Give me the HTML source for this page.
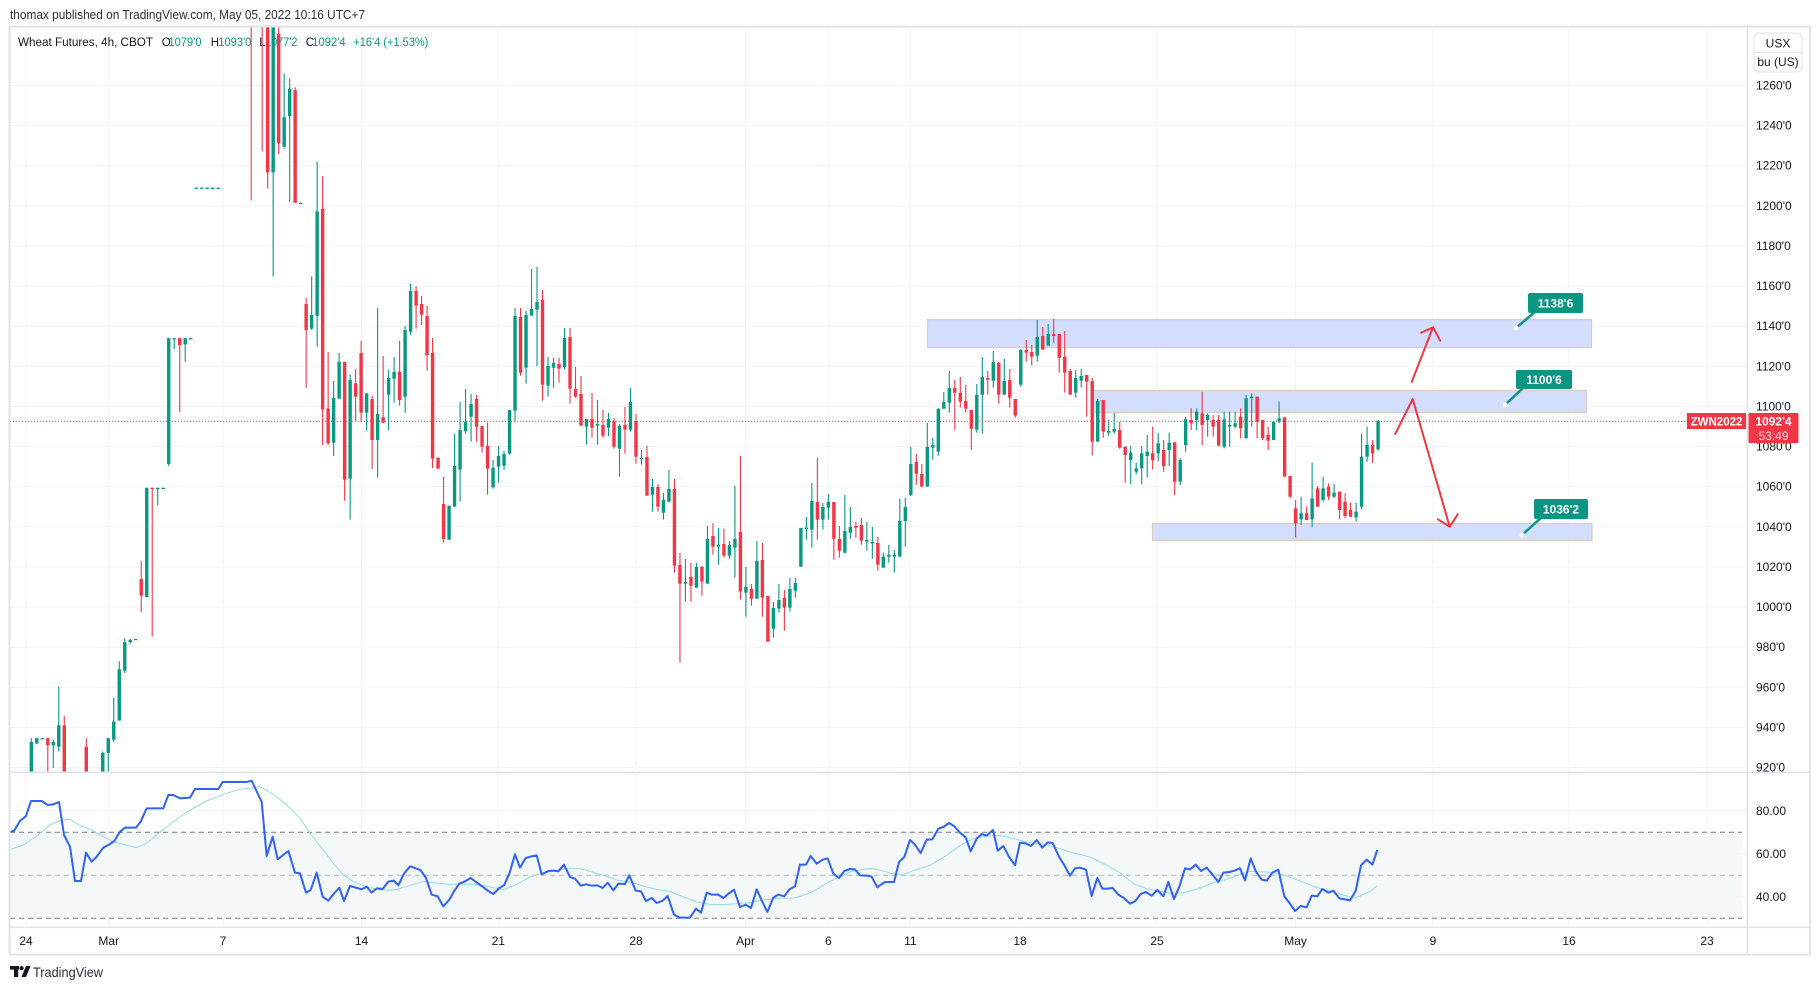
<!DOCTYPE html>
<html><head><meta charset="utf-8">
<style>
html,body{margin:0;padding:0;background:#fff;}
body{width:1820px;height:990px;overflow:hidden;position:relative;font-family:"Liberation Sans",Arial,sans-serif;}
svg{position:absolute;left:0;top:0;}
text{font-family:"Liberation Sans",Arial,sans-serif;}
</style></head>
<body>
<svg width="1820" height="990" viewBox="0 0 1820 990" xmlns="http://www.w3.org/2000/svg">
<defs>
<clipPath id="mainclip"><rect x="10" y="27" width="1737" height="745"/></clipPath>
<clipPath id="rsiclip"><rect x="10" y="773" width="1737" height="154"/></clipPath>
</defs>
<rect x="0" y="0" width="1820" height="990" fill="#fff"/>
<text x="10" y="19" font-size="12.5" fill="#2a2e39" textLength="355" lengthAdjust="spacingAndGlyphs">thomax published on TradingView.com, May 05, 2022 10:16 UTC+7</text>

<!-- grid -->
<g stroke="#f0f3fa" stroke-width="1">
<line x1="10" x2="1747" y1="85.5" y2="85.5"/><line x1="10" x2="1747" y1="125.6" y2="125.6"/>
<line x1="10" x2="1747" y1="165.7" y2="165.7"/><line x1="10" x2="1747" y1="205.9" y2="205.9"/>
<line x1="10" x2="1747" y1="246" y2="246"/><line x1="10" x2="1747" y1="286.1" y2="286.1"/>
<line x1="10" x2="1747" y1="326.2" y2="326.2"/><line x1="10" x2="1747" y1="366.3" y2="366.3"/>
<line x1="10" x2="1747" y1="406.5" y2="406.5"/><line x1="10" x2="1747" y1="446.6" y2="446.6"/>
<line x1="10" x2="1747" y1="486.7" y2="486.7"/><line x1="10" x2="1747" y1="526.8" y2="526.8"/>
<line x1="10" x2="1747" y1="566.9" y2="566.9"/><line x1="10" x2="1747" y1="607.1" y2="607.1"/>
<line x1="10" x2="1747" y1="647.2" y2="647.2"/><line x1="10" x2="1747" y1="687.3" y2="687.3"/>
<line x1="10" x2="1747" y1="727.4" y2="727.4"/><line x1="10" x2="1747" y1="767.5" y2="767.5"/>
<line x1="10" x2="1747" y1="810.5" y2="810.5"/><line x1="10" x2="1747" y1="853.5" y2="853.5"/>
<line x1="10" x2="1747" y1="896.5" y2="896.5"/>
<line x1="26" x2="26" y1="27" y2="927"/><line x1="108.7" x2="108.7" y1="27" y2="927"/>
<line x1="223" x2="223" y1="27" y2="927"/><line x1="361.5" x2="361.5" y1="27" y2="927"/>
<line x1="498.3" x2="498.3" y1="27" y2="927"/><line x1="636" x2="636" y1="27" y2="927"/>
<line x1="745.5" x2="745.5" y1="27" y2="927"/><line x1="828.3" x2="828.3" y1="27" y2="927"/>
<line x1="910.3" x2="910.3" y1="27" y2="927"/><line x1="1020" x2="1020" y1="27" y2="927"/>
<line x1="1157" x2="1157" y1="27" y2="927"/><line x1="1295.6" x2="1295.6" y1="27" y2="927"/>
<line x1="1433" x2="1433" y1="27" y2="927"/><line x1="1569" x2="1569" y1="27" y2="927"/>
<line x1="1707" x2="1707" y1="27" y2="927"/>
</g>

<!-- boxes -->
<g stroke="#dccbc6" stroke-width="1.2" fill="#d3ddfc">
<rect x="927.5" y="319.5" width="664" height="28"/>
<rect x="1093.5" y="390.5" width="493" height="22"/>
<rect x="1152.5" y="523.5" width="439.5" height="17"/>
</g>

<!-- legend -->
<g font-size="11.5">
<text x="18" y="46" fill="#131722" textLength="135" lengthAdjust="spacingAndGlyphs">Wheat Futures, 4h, CBOT</text>
<text x="161.7" y="46" fill="#131722">O</text>
<text x="168.5" y="46" fill="#089981" textLength="33" lengthAdjust="spacingAndGlyphs">1079'0</text>
<text x="210.7" y="46" fill="#131722">H</text>
<text x="218.3" y="46" fill="#089981" textLength="33" lengthAdjust="spacingAndGlyphs">1093'0</text>
<text x="259.3" y="46" fill="#131722">L</text>
<text x="265" y="46" fill="#089981" textLength="32.5" lengthAdjust="spacingAndGlyphs">1077'2</text>
<text x="305.7" y="46" fill="#131722">C</text>
<text x="312.3" y="46" fill="#089981" textLength="33.3" lengthAdjust="spacingAndGlyphs">1092'4</text>
<text x="353.3" y="46" fill="#089981" textLength="75" lengthAdjust="spacingAndGlyphs">+16'4 (+1.53%)</text>
</g>

<!-- candles -->
<g id="candles" clip-path="url(#mainclip)"></g>

<!-- current price line -->
<line x1="10" x2="1687" y1="421.3" y2="421.3" stroke="#f23645" stroke-width="1" stroke-dasharray="1 2"/>

<!-- arrows -->
<g stroke="#f23645" stroke-width="2" fill="none" stroke-linecap="round" stroke-linejoin="round">
<polyline points="1411.8,381.7 1433,327.3"/>
<polyline points="1421.2,332.7 1433,327.3 1440.2,340.7"/>
<polyline points="1395.2,434 1412.7,399 1449.7,526.7"/>
<polyline points="1437.8,519.3 1449.7,526.7 1457.7,514.3"/>
</g>

<!-- callouts -->
<g>
<line x1="1536" y1="311" x2="1516" y2="328" stroke="#0a9682" stroke-width="2.5"/>
<rect x="1528" y="293" width="55" height="20" rx="2" fill="#0a9682"/>
<circle cx="1516" cy="328" r="2.6" fill="#fff" stroke="#dfe6e4" stroke-width="0.6"/>
<text x="1555.5" y="307.5" font-size="12" font-weight="bold" fill="#fff" text-anchor="middle">1138'6</text>
<line x1="1524" y1="387" x2="1505" y2="405" stroke="#0a9682" stroke-width="2.5"/>
<rect x="1516" y="370" width="56" height="19" rx="2" fill="#0a9682"/>
<circle cx="1505" cy="405" r="2.6" fill="#fff" stroke="#dfe6e4" stroke-width="0.6"/>
<text x="1544" y="384" font-size="12" font-weight="bold" fill="#fff" text-anchor="middle">1100'6</text>
<line x1="1542" y1="517" x2="1522" y2="535" stroke="#0a9682" stroke-width="2.5"/>
<rect x="1534" y="499" width="54" height="20" rx="2" fill="#0a9682"/>
<circle cx="1522" cy="535" r="2.6" fill="#fff" stroke="#dfe6e4" stroke-width="0.6"/>
<text x="1561" y="513.5" font-size="12" font-weight="bold" fill="#fff" text-anchor="middle">1036'2</text>
</g>

<!-- RSI pane -->
<rect x="10" y="832" width="1732" height="86" fill="#f4f8f8"/>
<g stroke-width="1" stroke-dasharray="5 4">
<line x1="10" x2="1742" y1="832.3" y2="832.3" stroke="#787b86"/>
<line x1="10" x2="1742" y1="875.3" y2="875.3" stroke="#b2b5be"/>
<line x1="10" x2="1742" y1="918.3" y2="918.3" stroke="#787b86"/>
</g>
<g clip-path="url(#rsiclip)" fill="none" stroke-linejoin="round">
<!-- MA -->
<g stroke="#94dce8" stroke-width="3">
<polyline transform="translate(0,760) scale(0.333333)" points="33,268 70,255 110,228 150,195 185,180 210,178 240,197 270,207 300,225 340,245 375,255 410,263 440,250 470,225 520,185 570,150 620,123 670,103 720,88 780,80 820,103 860,135 900,175 930,220 970,270 1000,310 1030,345 1060,365 1100,380 1140,390 1200,390"/>
<polyline transform="translate(390,772) scale(0.333333)" points="0,355 20,352 60,340 100,328 140,333 180,338 220,336 260,337 300,345 340,353 380,337 420,315 460,302 500,295 540,290 570,290 600,298 640,310 680,324 720,330 760,342 800,352 840,358 880,375 920,390 960,397 1000,398 1040,395 1080,392 1120,384 1160,379 1215,378 1250,366 1280,353 1315,330 1350,315 1380,300 1420,292 1445,289 1470,295 1500,302"/>
<polyline transform="translate(880,772) scale(0.333333)" points="30,305 70,308 100,296 150,280 200,250 240,220 280,200 320,192 360,190 400,200 450,212 500,218 540,230 580,243 630,255 680,280 720,302 760,335 800,350 840,358 880,365 920,360 960,348 1000,332 1040,322 1080,308 1110,298 1160,300 1200,305 1250,323 1300,343 1350,357 1400,372 1420,378 1440,372 1470,358 1490,342"/>
</g>
<!-- RSI -->
<g stroke="#2f62f5" stroke-width="6">
<polyline transform="translate(0,760) scale(0.333333)" points="28,216 42,213 60,183 78,168 93,123 125,123 143,135 160,133 177,126 192,225 210,260 225,363 243,363 258,278 275,305 290,290 310,263 330,252 343,243 360,215 375,203 408,203 422,185 440,145 490,145 505,105 520,105 540,115 570,113 585,87 655,87 668,66 740,66 755,62 768,90 785,125 800,288 818,230 833,298 865,273 885,338 900,340 918,398 932,390 950,338 968,410 985,422 1000,403 1018,383 1032,423 1050,378 1085,388 1100,380 1115,398 1130,385 1148,387 1165,365 1170,364"/>
<polyline transform="translate(390,772) scale(0.333333)" points="0,328 12,326 25,340 42,305 60,283 75,288 92,295 108,318 125,368 143,373 160,403 178,383 192,358 208,335 225,328 242,318 258,330 275,342 292,355 310,366 328,348 342,340 358,305 375,247 390,287 407,258 425,253 440,250 455,307 475,297 490,296 505,298 522,278 540,315 555,320 572,341 588,337 605,341 622,340 638,348 653,332 670,355 685,335 705,336 718,310 737,356 753,358 768,387 785,378 800,393 818,386 833,372 852,428 868,437 885,437 900,437 918,410 933,422 950,362 965,368 985,368 1000,378 1017,364 1032,353 1050,405 1067,398 1083,408 1100,352 1115,385 1132,420 1150,377 1165,368 1183,373 1198,352 1215,343 1230,278 1248,278 1262,252 1280,275 1298,263 1313,259 1330,305 1347,318 1363,297 1380,291 1395,292 1410,310 1430,311 1445,314 1462,346 1470,340"/>
<polyline transform="translate(880,772) scale(0.333333)" points="0,340 15,330 42,330 57,270 73,255 90,204 105,218 122,243 140,203 157,202 175,170 190,165 207,153 222,162 240,182 257,196 272,238 290,200 305,186 320,191 339,174 353,236 370,222 388,256 405,280 420,212 437,214 453,222 470,204 487,227 503,211 518,213 537,254 553,280 570,311 585,289 600,287 618,293 635,372 652,318 667,350 682,350 698,348 715,368 730,377 750,395 765,388 782,366 797,360 815,371 832,354 850,373 865,330 882,381 898,344 915,289 930,292 947,278 963,297 980,287 997,307 1015,330 1030,302 1048,300 1063,296 1080,289 1095,325 1112,259 1128,299 1145,323 1160,326 1177,302 1195,293 1213,373 1230,395 1245,417 1262,402 1280,406 1295,371 1312,373 1327,351 1345,362 1360,356 1378,379 1395,382 1410,385 1427,357 1443,280 1460,263 1477,278 1492,234"/>
</g>
</g>

<!-- frame & separators -->
<rect x="9.5" y="26.5" width="1800.5" height="928" fill="none" stroke="#e0e3eb" stroke-width="2"/>
<line x1="10" x2="1810" y1="772.3" y2="772.3" stroke="#e0e3eb" stroke-width="1.6"/>
<line x1="10" x2="1810" y1="927.3" y2="927.3" stroke="#e0e3eb" stroke-width="1.6"/>
<line x1="1747.3" x2="1747.3" y1="27" y2="954" stroke="#e0e3eb" stroke-width="1.6"/>

<!-- price axis -->
<g font-size="12" fill="#131722">
<text x="1756" y="89.5">1260'0</text><text x="1756" y="129.6">1240'0</text>
<text x="1756" y="169.7">1220'0</text><text x="1756" y="209.9">1200'0</text>
<text x="1756" y="250">1180'0</text><text x="1756" y="290.1">1160'0</text>
<text x="1756" y="330.2">1140'0</text><text x="1756" y="370.3">1120'0</text>
<text x="1756" y="410.5">1100'0</text><text x="1756" y="450.6">1080'0</text>
<text x="1756" y="490.7">1060'0</text><text x="1756" y="530.8">1040'0</text>
<text x="1756" y="570.9">1020'0</text><text x="1756" y="611.1">1000'0</text>
<text x="1756" y="651.2">980'0</text><text x="1756" y="691.3">960'0</text>
<text x="1756" y="731.4">940'0</text><text x="1756" y="771.5">920'0</text>
<text x="1756" y="815">80.00</text><text x="1756" y="858">60.00</text><text x="1756" y="901">40.00</text>
</g>
<rect x="1754" y="33" width="48" height="39" rx="5" fill="#fff" stroke="#e0e3eb" stroke-width="1"/>
<line x1="1754" x2="1802" y1="52.5" y2="52.5" stroke="#e0e3eb" stroke-width="1"/>
<text x="1778" y="47.5" font-size="12" fill="#131722" text-anchor="middle">USX</text>
<text x="1778" y="66" font-size="12" fill="#131722" text-anchor="middle">bu (US)</text>

<!-- price tags -->
<rect x="1687" y="413" width="59" height="16" fill="#f23645"/>
<text x="1716.5" y="425.3" font-size="11.5" font-weight="bold" fill="#fff" text-anchor="middle">ZWN2022</text>
<rect x="1748.5" y="413" width="50" height="30" rx="1" fill="#f23645"/>
<text x="1773.5" y="425.3" font-size="12" font-weight="bold" fill="#fff" text-anchor="middle">1092'4</text>
<text x="1773.5" y="440" font-size="12" fill="#fff" fill-opacity="0.82" text-anchor="middle">53:49</text>

<!-- time axis -->
<g font-size="12" fill="#131722" text-anchor="middle">
<text x="26" y="945">24</text><text x="108.7" y="945">Mar</text><text x="223" y="945">7</text>
<text x="361.5" y="945">14</text><text x="498.3" y="945">21</text><text x="636" y="945">28</text>
<text x="745.5" y="945">Apr</text><text x="828.3" y="945">6</text><text x="910.3" y="945">11</text>
<text x="1020" y="945">18</text><text x="1157" y="945">25</text><text x="1295.6" y="945">May</text>
<text x="1433" y="945">9</text><text x="1569" y="945">16</text><text x="1707" y="945">23</text>
</g>

<!-- TradingView logo -->
<g fill="#131722">
<rect x="10" y="966" width="9" height="3.6"/>
<rect x="14" y="966" width="4.2" height="11"/>
<circle cx="21.6" cy="968.2" r="2.1"/>
<polygon points="21.5,977 26,966 30.5,966 26,977"/>
</g>
<text x="33" y="977" font-size="14" fill="#2a2e39" textLength="70" lengthAdjust="spacingAndGlyphs">TradingView</text>
</svg>

<script>
(function(){
var A=[
[1,1505,1568,1497,1568],[1,1497,1508,1497,1510],[1,1497,1499,1497,1499],[0,1497,1512,1497,1568],
[1,1505,1512,1500,1560],[1,1470,1515,1388,1525],[0,1470,1568,1450,1568],
null,null,null,
[0,1515,1568,1497,1568],
null,null,
[1,1528,1568,1525,1568],[1,1497,1528,1497,1568],[1,1462,1500,1412,1505],[1,1352,1460,1335,1460],
[1,1295,1355,1287,1360],[1,1290,1295,1288,1298],[1,1288,1290,1288,1290],[0,1162,1197,1124,1232],
[1,970,1200,970,1200],[0,970,972,970,1283],[1,970,972,970,1007],[1,970,972,970,972],
[1,655,920,655,924],[1,655,657,655,678],[0,655,670,655,811],[1,655,668,655,705],[1,655,657,655,657],
[1,338,340,338,340],[1,338,340,338,340],[1,338,340,338,340],[1,338,340,338,340],[1,338,340,338,340],
null,null,null,null,null,
[0,-80,-40,-80,365],
null,
[0,-80,-40,-80,262],[0,-80,306,-80,340],[1,-80,306,-80,525],[0,15,245,-80,268],
[1,190,252,98,256],[1,130,188,108,368],[0,133,370,127,370],[1,370,372,370,372],
[0,583,638,570,760],[1,606,635,525,638],[1,388,608,284,673],[0,383,805,314,880],[0,803,876,684,880]
];
var B=[
[1,474,608,423,648],[1,366,476,339,476],[0,366,719,366,782],[1,420,716,403,839],[0,430,470,387,545],
[0,339,518,303,545],[1,460,518,460,572],[0,477,600,467,687],[1,522,600,204,713],[0,532,548,348,550],
[1,414,464,390,570],[1,396,416,351,488],[0,396,480,303,497],[1,270,470,258,518],[1,153,275,132,285],
[0,153,197,138,266],[0,192,224,168,255],[0,228,345,198,392],[0,339,656,294,684],[0,654,686,651,686],
[0,792,897,711,908],[1,797,899,797,899],[1,678,800,582,800],[1,570,689,486,785],[1,545,573,447,581],
[1,492,530,462,605],[0,477,560,465,605],[0,558,620,558,638],[0,618,686,548,764],[1,684,741,660,746],
[1,648,680,618,728],[1,642,677,633,689],[1,510,641,510,644],[1,228,512,204,545],[0,231,398,204,407],
[1,225,383,213,431],[1,207,227,87,227],[1,186,209,81,378],[0,180,434,150,482],[1,378,437,351,470],
[1,369,383,354,443],[0,372,386,354,428],[1,294,381,264,389],[0,291,446,264,491],[0,447,470,381,473],
[0,462,557,408,557],[1,537,560,537,614],[0,537,563,459,593],[1,552,557,480,614],[0,555,587,510,593],
[1,537,563,519,588],[0,543,620,534,626],[1,558,626,552,710],[0,555,569,501,641],[1,486,569,444,575],
[0,543,650,522,671],[1,654,656,630,674],[0,651,767,618,767],[1,741,764,717,815],[0,741,800,732,815],
[1,780,818,759,839],[1,747,785,690,785],[0,747,977,717,998],[0,975,1031,939,1268],[1,1026,1031,957,1085],
[0,1011,1037,969,1085],[1,981,1043,969,1043],[0,981,1025,978,1067],[1,897,1031,858,1031],[0,888,920,849,944],
[1,915,920,864,974]
];
var C=[
[0,852,887,806,893],[1,855,887,843,896],[1,837,863,678,953],[0,816,995,588,1019],[1,981,998,921,1070],
[0,987,1016,972,1037],[1,903,1016,843,1016],[0,900,1013,849,1070],[0,1008,1145,1008,1145],[1,1044,1106,1026,1133],
[1,1020,1046,972,1058],[0,1014,1043,990,1112],[1,987,1043,954,1055],[1,969,992,954,1013],[1,804,920,804,920],
[1,803,806,771,839],[1,723,809,669,863],[0,726,779,594,839],[1,741,779,729,809],[1,726,743,702,779],
[0,726,836,726,899],[0,837,872,798,893],[1,813,878,705,881],[1,801,818,741,836],[0,798,803,786,833],
[0,795,842,774,854],[1,840,845,786,872],[1,846,848,801,896],[0,849,914,831,932],[1,890,923,878,923],
[1,884,890,855,908],[1,885,890,870,938],[1,783,890,716,890],[1,741,783,714,860],[1,612,705,561,708],
[0,606,641,582,674],[0,642,680,612,680],[1,561,680,489,680],[1,555,563,534,599],[1,447,575,444,587],
[1,426,446,396,446],[1,384,428,333,458],[0,384,398,360,510],[0,399,425,351,443],[0,423,446,375,458],
[0,450,506,450,569],[1,405,509,372,518],[1,351,404,291,521],[0,354,359,333,404],[1,306,362,273,383],
[0,309,404,306,431],[1,363,404,297,404],[0,360,413,327,443],[0,417,467,417,473],[1,270,374,267,380],
[0,270,278,240,305],[0,276,290,255,317],[1,231,287,180,305],[0,228,269,201,269],[1,222,257,192,257],
[0,222,228,177,248],[0,222,293,222,338],[0,291,338,213,398],[0,333,404,327,404],[1,354,398,330,413],
[1,348,362,327,383],[0,345,365,345,470],[0,363,545,354,587],[1,423,545,417,545],[0,420,515,420,533],
[1,513,518,480,527],[1,507,515,459,521],[0,510,563,486,566]
];
var D=[
[0,500,525,500,608],[1,518,540,498,613],[1,565,575,548,583],[1,520,565,498,613],[1,515,528,465,592],
[0,520,540,440,568],[1,490,520,460,543],[0,510,558,480,575],[1,488,510,458,558],[0,487,605,487,645],
[1,540,605,535,615],[1,418,495,410,515],[0,420,430,385,450],[1,395,420,385,450],[0,400,435,335,495],
[1,405,420,400,470],[0,420,440,405,470],[0,420,497,405,497],[1,418,500,395,505],[1,435,440,395,500],
[1,430,440,395,445],[0,410,445,385,475],[1,355,475,345,475],[1,350,355,340,440],[0,350,425,350,475],
[0,420,475,420,480],[0,465,482,440,510],[1,425,480,425,480],[1,415,425,365,430],[0,412,590,412,590],
[0,588,650,588,655],[0,685,730,660,772],[1,700,718,650,735],[0,700,720,680,720],[1,655,718,548,742],
[0,625,680,618,680],[1,625,660,590,665],[0,620,650,610,660],[1,638,650,612,655],[0,635,690,635,718],
[0,665,708,640,715],[0,690,710,668,712],[1,695,712,668,725],[1,530,680,462,688],[1,495,530,440,545],
[0,495,520,480,548],[1,422,508,420,512]
];
var segs=[{k:0,yo:27,ys:1/2.105,d:A},{k:55,yo:240,ys:1/3,d:B},{k:126,yo:260,ys:1/3,d:C},{k:199,yo:280,ys:1/3,d:D}];
var h='';
segs.forEach(function(s){
  s.d.forEach(function(b,i){
    if(!b) return;
    var k=s.k+i, x=31.3+5.497*k, col=b[0]?'#089981':'#f23645';
    var bt=s.yo+b[1]*s.ys, bb=s.yo+b[2]*s.ys, wt=s.yo+b[3]*s.ys, wb=s.yo+b[4]*s.ys;
    h+='<rect x="'+(x-0.55).toFixed(2)+'" y="'+wt.toFixed(2)+'" width="1.1" height="'+Math.max(wb-wt,1).toFixed(2)+'" fill="'+col+'"/>';
    h+='<rect x="'+(x-1.7).toFixed(2)+'" y="'+bt.toFixed(2)+'" width="3.4" height="'+Math.max(bb-bt,1.3).toFixed(2)+'" fill="'+col+'"/>';
  });
});
document.getElementById('candles').innerHTML=h;
})();
</script>
</body></html>
